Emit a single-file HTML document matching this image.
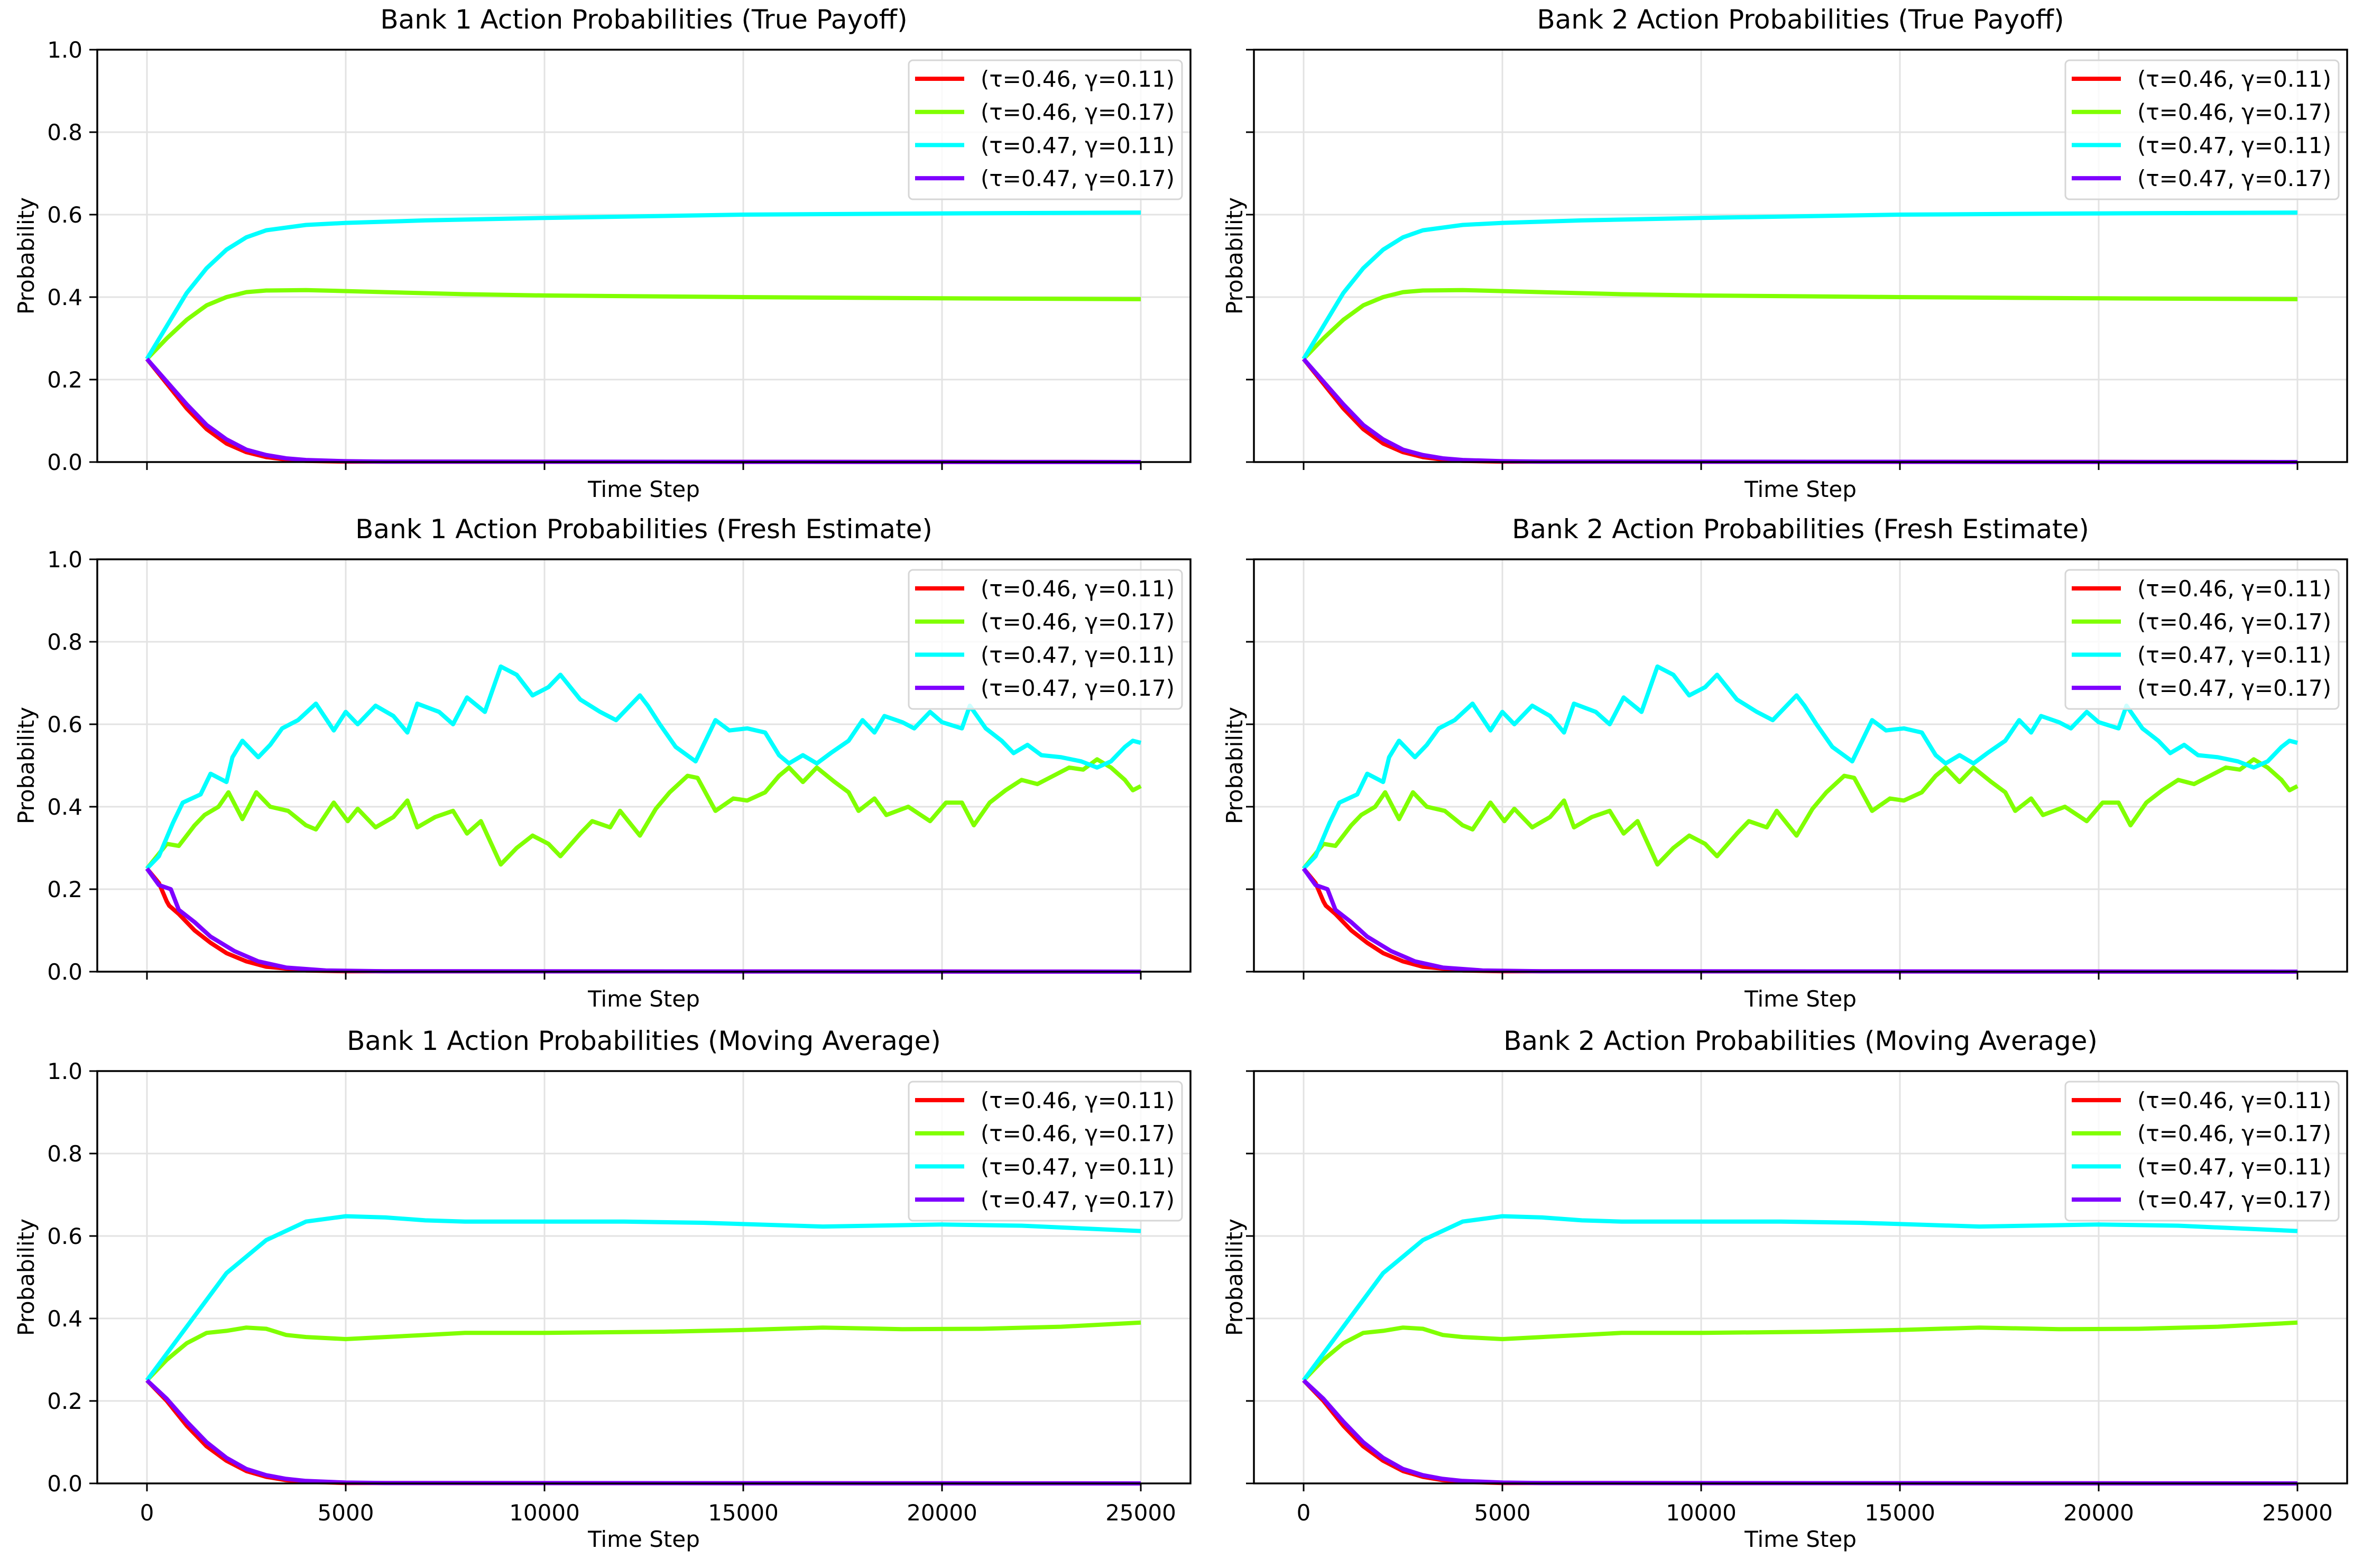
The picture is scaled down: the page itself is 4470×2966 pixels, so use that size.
<!DOCTYPE html>
<html><head><meta charset="utf-8"><style>
html,body{margin:0;padding:0;background:#fff;}
svg{display:block;font-family:"DejaVu Sans","Liberation Sans",sans-serif;}
</style></head><body>
<svg id="fig" width="4470" height="2966" viewBox="0 0 4470 2966" xmlns="http://www.w3.org/2000/svg"></svg>
<script>
// ---- data (time in thousands of steps) ----
const seriesLabels = ["(τ=0.46, γ=0.11)","(τ=0.46, γ=0.17)","(τ=0.47, γ=0.11)","(τ=0.47, γ=0.17)"];
const seriesColors = ["#ff0000","#80ff00","#00ffff","#7f00ff"];
const xTicks = [0,5000,10000,15000,20000,25000];
const yTicks = [0,0.2,0.4,0.6,0.8,1.0];
const yTickLabels = ["0.0","0.2","0.4","0.6","0.8","1.0"];
const xTickLabels = ["0","5000","10000","15000","20000","25000"];

const trueRedT = [0,0.5,1,1.5,2,2.5,3,3.5,4,5,25];
const trueRedV = [0.25,0.19,0.13,0.08,0.045,0.024,0.012,0.006,0.003,0.001,0];
const truePurT = [0,0.5,1,1.5,2,2.5,3,3.5,4,5,6,25];
const truePurV = [0.25,0.195,0.14,0.09,0.055,0.03,0.017,0.009,0.005,0.002,0.001,0];
const trueCyanT = [0,0.5,1,1.5,2,2.5,3,4,5,7,10,15,20,25];
const trueCyanV = [0.25,0.33,0.41,0.47,0.515,0.545,0.562,0.575,0.58,0.586,0.592,0.6,0.603,0.605];
const trueGreenT = [0,0.5,1,1.5,2,2.5,3,4,6,8,10,15,20,25];
const trueGreenV = [0.25,0.3,0.345,0.38,0.40,0.412,0.416,0.417,0.412,0.407,0.404,0.4,0.397,0.395];

const freshCyanT = [0,0.3,0.65,0.9,1.35,1.6,2.0,2.15,2.4,2.8,3.1,3.4,3.8,4.25,4.7,5.0,5.3,5.75,6.2,6.55,6.8,7.35,7.7,8.05,8.5,8.9,9.3,9.7,10.1,10.4,10.9,11.4,11.8,12.4,12.6,12.9,13.3,13.8,14.0,14.3,14.65,15.1,15.55,15.9,16.15,16.5,16.85,17.2,17.65,18.0,18.3,18.55,19.0,19.3,19.7,20.0,20.5,20.7,21.1,21.5,21.8,22.15,22.5,23.0,23.5,23.9,24.25,24.6,24.8,25];
const freshCyanV = [0.25,0.28,0.36,0.41,0.43,0.48,0.46,0.52,0.56,0.52,0.55,0.59,0.61,0.65,0.585,0.63,0.60,0.645,0.62,0.58,0.65,0.63,0.60,0.665,0.63,0.74,0.72,0.67,0.69,0.72,0.66,0.63,0.61,0.67,0.645,0.60,0.545,0.51,0.55,0.61,0.585,0.59,0.58,0.525,0.505,0.525,0.505,0.53,0.56,0.61,0.58,0.62,0.605,0.59,0.63,0.605,0.59,0.645,0.59,0.56,0.53,0.55,0.525,0.52,0.51,0.495,0.51,0.545,0.56,0.555];
const freshGreenT = [0,0.5,0.8,1.2,1.45,1.8,2.05,2.4,2.75,3.1,3.55,4.0,4.25,4.7,5.05,5.3,5.75,6.2,6.55,6.8,7.25,7.7,8.05,8.4,8.9,9.3,9.7,10.1,10.4,10.9,11.2,11.65,11.9,12.4,12.8,13.15,13.6,13.85,14.3,14.75,15.1,15.55,15.9,16.15,16.5,16.85,17.3,17.65,17.9,18.3,18.6,19.15,19.7,20.1,20.5,20.8,21.2,21.6,22.0,22.4,22.8,23.2,23.55,23.9,24.25,24.6,24.8,25];
const freshGreenV = [0.25,0.31,0.305,0.355,0.38,0.40,0.435,0.37,0.435,0.40,0.39,0.355,0.345,0.41,0.365,0.395,0.35,0.375,0.415,0.35,0.375,0.39,0.335,0.365,0.26,0.30,0.33,0.31,0.28,0.335,0.365,0.35,0.39,0.33,0.395,0.435,0.475,0.47,0.39,0.42,0.415,0.435,0.475,0.495,0.46,0.495,0.46,0.435,0.39,0.42,0.38,0.40,0.365,0.41,0.41,0.355,0.41,0.44,0.465,0.455,0.475,0.495,0.49,0.515,0.495,0.465,0.44,0.45];
const freshRedT = [0,0.3,0.5,0.56,0.8,1.2,1.6,2.0,2.5,3,4,5,25];
const freshRedV = [0.25,0.215,0.17,0.16,0.14,0.1,0.07,0.045,0.025,0.012,0.003,0.001,0];
const freshPurT = [0,0.3,0.6,0.8,1.2,1.6,2.2,2.8,3.5,4.5,6,25];
const freshPurV = [0.25,0.21,0.2,0.15,0.12,0.085,0.05,0.025,0.01,0.003,0.001,0];

const maCyanT = [0,1,2,3,4,5,6,7,8,10,12,14,17,20,22,25];
const maCyanV = [0.25,0.38,0.51,0.59,0.635,0.648,0.645,0.638,0.635,0.635,0.635,0.632,0.623,0.628,0.625,0.612];
const maGreenT = [0,0.5,1,1.5,2,2.5,3,3.5,4,5,6,7,8,10,13,15,17,19,21,23,25];
const maGreenV = [0.25,0.30,0.34,0.365,0.37,0.378,0.375,0.36,0.355,0.35,0.355,0.36,0.365,0.365,0.368,0.372,0.378,0.374,0.375,0.38,0.39];
const maRedT = [0,0.5,1,1.5,2,2.5,3,3.5,4,5,25];
const maRedV = [0.25,0.2,0.14,0.09,0.055,0.03,0.016,0.008,0.004,0.001,0];
const maPurT = [0,0.5,1,1.5,2,2.5,3,3.5,4,5,6,25];
const maPurV = [0.25,0.205,0.15,0.1,0.062,0.035,0.02,0.011,0.006,0.002,0.001,0];

const rowTitles = ["True Payoff","Fresh Estimate","Moving Average"];
const rowData = [
  [[trueRedT,trueRedV],[trueGreenT,trueGreenV],[trueCyanT,trueCyanV],[truePurT,truePurV]],
  [[freshRedT,freshRedV],[freshGreenT,freshGreenV],[freshCyanT,freshCyanV],[freshPurT,freshPurV]],
  [[maRedT,maRedV],[maGreenT,maGreenV],[maCyanT,maCyanV],[maPurT,maPurV]]
];

// ---- layout ----
const NS="http://www.w3.org/2000/svg";
const svg=document.getElementById('fig');
const colLeft=[184,2372], panelW=2068;
const rowTop=[94,1058,2026], panelH=780;
const xMin=-1250, xMax=26250;
function mk(tag,attrs,parent){const e=document.createElementNS(NS,tag);for(const k in attrs)e.setAttribute(k,attrs[k]);(parent||svg).appendChild(e);return e;}

for(let r=0;r<3;r++){
  for(let c=0;c<2;c++){
    const L=colLeft[c],T=rowTop[r],W=panelW,H=panelH;
    const xs=v=>L+(v-xMin)/(xMax-xMin)*W;
    const ys=v=>T+H-(v)*H;
    const g=mk('g',{});
    
    
    xTicks.forEach(t=>{const l=mk('line',{x1:xs(t),x2:xs(t),y1:T,y2:T+H,stroke:'#e3e3e3','stroke-width':3},g);
      });
    yTicks.forEach(t=>{const l=mk('line',{x1:L,x2:L+W,y1:ys(t),y2:ys(t),stroke:'#e3e3e3','stroke-width':3},g);
      });
    rowData[r].forEach((s,i)=>{
      const pts=s[0].map((t,k)=>xs(t*1000).toFixed(1)+','+ys(s[1][k]).toFixed(1)).join(' ');
      const pl=mk('polyline',{points:pts,fill:'none',stroke:seriesColors[i],'stroke-width':8,'stroke-linejoin':'round'},g);
      
      
    });
    const sp=mk('rect',{x:L,y:T,width:W,height:H,fill:'none',stroke:'#000','stroke-width':3.5},g);
    
    xTicks.forEach((t,i)=>{const l=mk('line',{x1:xs(t),x2:xs(t),y1:T+H,y2:T+H+15,stroke:'#000','stroke-width':3},g);
      
      if(r===2){const tx=mk('text',{x:xs(t),y:T+H+70,'font-size':42,'text-anchor':'middle',fill:'#000'},g);tx.textContent=xTickLabels[i];
        }
    });
    yTicks.forEach((t,i)=>{const l=mk('line',{x1:L-15,x2:L,y1:ys(t),y2:ys(t),stroke:'#000','stroke-width':3},g);
      
      if(c===0){const tx=mk('text',{x:L-28,y:ys(t)+15,'font-size':42,'text-anchor':'end',fill:'#000'},g);tx.textContent=yTickLabels[i];
        }
    });
    const ti=mk('text',{x:L+W/2,y:T-40,'font-size':50,'text-anchor':'middle',fill:'#000'},g);
    ti.textContent='Bank '+(c+1)+' Action Probabilities ('+rowTitles[r]+')';
    
    const xl=mk('text',{x:L+W/2,y:T+H+(r===2?120:66),'font-size':42,'text-anchor':'middle',fill:'#000'},g);
    xl.textContent='Time Step';
    
    const yx=(c===0)?64:2350, yy=T+H/2;
    const yl=mk('text',{x:yx,y:yy,'font-size':42,'text-anchor':'middle',fill:'#000',transform:'rotate(-90 '+yx+' '+yy+')'},g);
    yl.textContent='Probability';
    
    const lg=mk('g',{},g);
    
    const bx=L+W-533, by=T+20;
    mk('rect',{x:bx,y:by,width:517,height:263,rx:8,fill:'#fff','fill-opacity':0.8,stroke:'#d6d6d6','stroke-width':3},lg);
    seriesLabels.forEach((lab,i)=>{
      const ey=by+35+i*62.7;
      const ent=mk('g',{},lg);
      
      mk('line',{x1:bx+12,x2:bx+105,y1:ey,y2:ey,stroke:seriesColors[i],'stroke-width':8},ent);
      const tx=mk('text',{x:bx+136,y:ey+15,'font-size':42,fill:'#000'},ent);tx.textContent=lab;
    });
  }
}
</script>
</body></html>
